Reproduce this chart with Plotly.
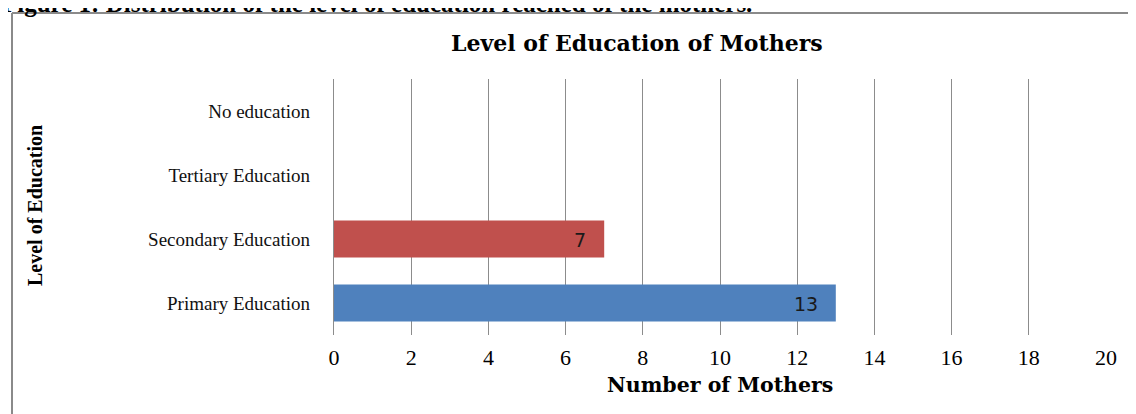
import plotly.graph_objects as go

categories = ["Primary Education", "Secondary Education", "Tertiary Education", "No education"]
values = [13, 7, None, None]
bar_colors = ["#4F81BD", "#C0504D", "#9BBB59", "#8064A2"]
x_ticks = [0, 2, 4, 6, 8, 10, 12, 14, 16, 18, 20]

OFF = 8  # page body margin
W, H = 1136, 414
# plot area in screen pixels
SL, SR, ST, SB = 334, 1106, 79, 335
L, R, T, B = SL - OFF, SR - OFF, ST - OFF, SB - OFF
pw, ph = R - L, B - T

def px(x):
    return (x - OFF - L) / pw

def py(y):
    return (B - (y - OFF)) / ph

serif = "Liberation Serif, Times New Roman, serif"
wide_serif = "DejaVu Serif, Liberation Serif, serif"

fig = go.Figure()
fig.add_trace(go.Bar(
    y=categories,
    x=values,
    orientation="h",
    marker=dict(color=bar_colors, line=dict(width=0)),
    width=0.58,
    textposition="none",
    cliponaxis=False,
))

# data labels, inside end with Excel-like padding
for cat, v in zip(categories, values):
    if v is None:
        continue
    fig.add_annotation(
        x=v, y=cat, xref="x", yref="y", text=str(v), showarrow=False,
        xanchor="right", yanchor="middle", xshift=-16, yshift=-1,
        font=dict(family="DejaVu Sans, Liberation Sans, sans-serif", size=19, color="#1a1a1a"),
    )

fig.update_layout(
    width=W, height=H,
    margin=dict(l=L, r=W - R, t=T, b=H - B, pad=0),
    paper_bgcolor="white",
    plot_bgcolor="white",
    showlegend=False,
    font=dict(family=serif, color="black"),
    xaxis=dict(
        range=[0, 20],
        tickvals=x_ticks,
        ticktext=[str(v) for v in x_ticks],
        showgrid=True,
        gridcolor="#8c8c8c",
        gridwidth=1.3,
        zeroline=False,
        showline=False,
        ticks="",
        tickfont=dict(family=serif, size=22, color="black"),
        ticklabelstandoff=7,
        fixedrange=True,
    ),
    yaxis=dict(
        categoryorder="array",
        categoryarray=categories,
        showgrid=False,
        zeroline=False,
        showline=True,
        linecolor="#8c8c8c",
        linewidth=1.3,
        ticks="",
        tickfont=dict(family=serif, size=19, color="#111"),
        ticklabelstandoff=19,
        fixedrange=True,
    ),
    bargap=0.42,
)

# Chart title
fig.add_annotation(
    text="<b>Level of Education of Mothers</b>", xref="paper", yref="paper",
    x=px(637), y=py(43), xanchor="center", yanchor="middle", showarrow=False,
    font=dict(family=wide_serif, size=22, color="black"),
)
# X axis title
fig.add_annotation(
    text="<b>Number of Mothers</b>", xref="paper", yref="paper",
    x=px(720), y=py(385), xanchor="center", yanchor="middle", showarrow=False,
    font=dict(family=wide_serif, size=20.5, color="black"),
)
# Y axis title (rotated)
fig.add_annotation(
    text="<b>Level of Education</b>", xref="paper", yref="paper",
    x=px(35), y=py(206), xanchor="center", yanchor="middle", showarrow=False,
    textangle=-90,
    font=dict(family=serif, size=20, color="black"),
)
# Cut-off caption at the very top
fig.add_annotation(
    text="<b>Figure 1: Distribution of the level of education reached of the mothers.</b>",
    xref="paper", yref="paper",
    x=px(0), y=py(19), xanchor="left", yanchor="bottom", showarrow=False,
    font=dict(family=serif, size=25, color="black"),
)
# Frame around chart (left + top borders visible)
fig.add_shape(type="line", xref="paper", yref="paper",
              x0=px(12), x1=px(12), y0=py(13), y1=py(440),
              line=dict(color="#8a8a8a", width=2))
fig.add_shape(type="line", xref="paper", yref="paper",
              x0=px(12), x1=px(1160), y0=py(13), y1=py(13),
              line=dict(color="#8a8a8a", width=2))

fig.write_html("out.html")
